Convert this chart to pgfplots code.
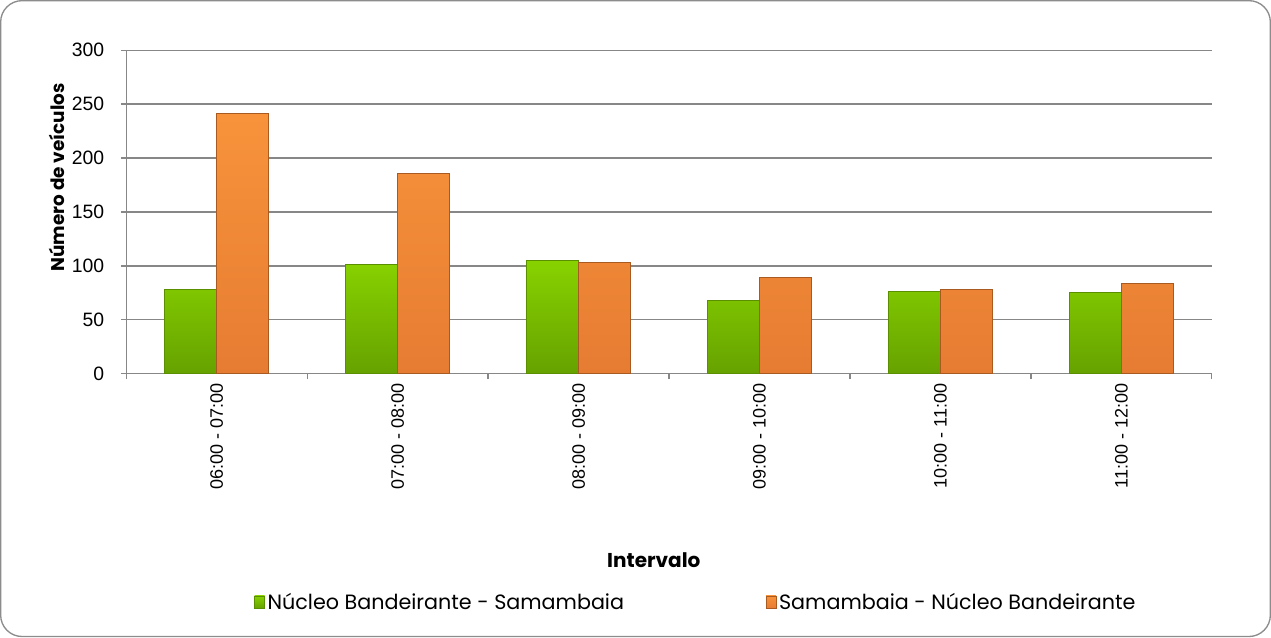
\documentclass[border=0pt]{standalone}
\usepackage{fontspec}
\setmainfont{Poppins}
\newfontfamily\tickfont{Liberation Sans}
\usepackage{pgfplots}
\pgfplotsset{compat=1.18}

\definecolor{gridgray}{HTML}{878787}
\definecolor{frame}{HTML}{8C8C8C}
\definecolor{gtop}{HTML}{88D200}
\definecolor{gbot}{HTML}{66A200}
\definecolor{gedge}{HTML}{5A8F00}
\definecolor{otop}{HTML}{F8933B}
\definecolor{obot}{HTML}{E67C32}
\definecolor{oedge}{HTML}{A95A20}

\pgfplotstableread{
x nb sn
0 78 241
1 101 186
2 105 103
3 68 89
4 76 78
5 75 84
}\counts

\begin{document}
\begin{tikzpicture}[x=0.75pt,y=0.75pt]
% frame, image coords in px with y up
\draw[frame, line width=1pt, rounded corners=16pt] (1.5,1.5) rectangle (1269.5,636.5);
\begin{axis}[
    at={(95.25pt,198pt)}, anchor=south west,
    scale only axis, width=813pt, height=242.25pt,
    xmin=-0.5, xmax=5.5, ymin=0, ymax=300,
    axis x line*=bottom, axis y line*=left,
    axis line style={gridgray, line width=1.2pt},
    ytick={0,50,...,300},
    ymajorgrids, grid style={gridgray, line width=1pt},
    xtick={0,...,5},
    xticklabels={06:00 - 07:00,07:00 - 08:00,08:00 - 09:00,09:00 - 10:00,10:00 - 11:00,11:00 - 12:00},
    minor xtick={-0.5,0.5,...,5.5},
    major x tick style={draw=none},
    tick style={gridgray, line width=1pt},
    tick align=outside, major tick length=4pt, minor tick length=4pt,
    /pgf/number format/assume math mode=true,
    x tick label style={font=\tickfont\fontsize{13.5}{15}\selectfont, rotate=90, anchor=east},
    y tick label style={font=\tickfont\fontsize{14.5}{16}\selectfont, xshift=-9pt},
    xlabel={\textbf{Intervalo}},
    xlabel style={font=\fontsize{15}{17}\selectfont, at={(axis description cs:0.486,-0.576)}, anchor=center},
    ylabel={\textbf{Número de veículos}},
    ylabel style={font=\fontsize{13.8}{16}\selectfont, at={(axis description cs:-0.064,0.607)}, anchor=center, rotate=0},
    ybar=0pt, bar width=39pt,
    legend columns=2,
    legend style={draw=none, fill=none, at={(axis description cs:0.525,-0.706)}, anchor=center,
        font=\fontsize{15.5}{18}\selectfont,
        /tikz/every even column/.append style={column sep=104pt}},
    legend image code/.code={\fill[#1] (0pt,-4.5pt) rectangle (7.5pt,4.5pt);},
]
\addplot[draw=gedge, line width=0.6pt, top color=gtop, bottom color=gbot] table[x=x,y=nb] {\counts};
\addplot[draw=oedge, line width=0.6pt, top color=otop, bottom color=obot] table[x=x,y=sn] {\counts};
\legend{Núcleo Bandeirante - Samambaia, Samambaia - Núcleo Bandeirante}
\end{axis}
\end{tikzpicture}
\end{document}
